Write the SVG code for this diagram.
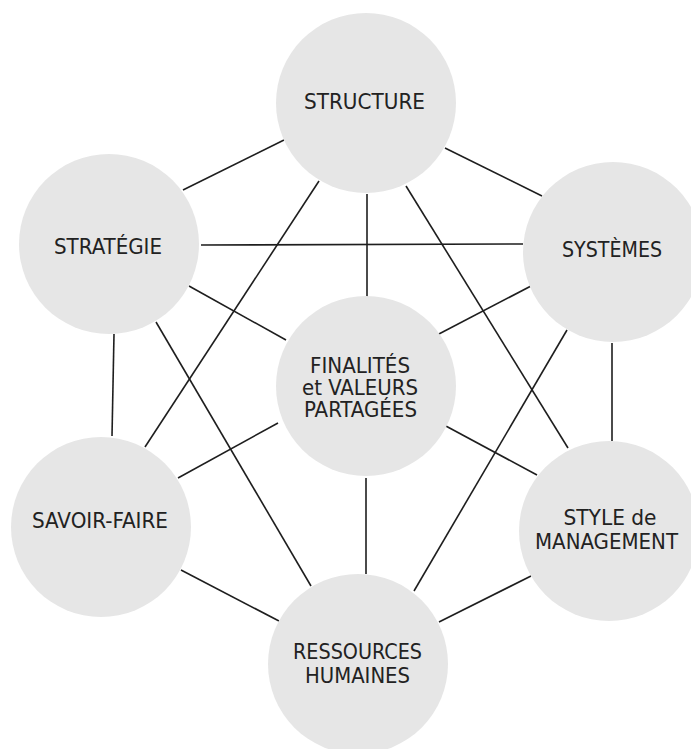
<svg xmlns="http://www.w3.org/2000/svg" width="691" height="749" viewBox="0 0 691 749">
<style>
.ln{stroke:#1e1e1e;stroke-width:1.6;fill:none}
.nd{fill:#e6e6e6}
.tx{font-family:"DejaVu Sans Condensed","DejaVu Sans",sans-serif;font-size:20.5px;fill:#222;text-anchor:middle}
</style>
<rect width="691" height="749" fill="#fff"/>
<g id="connectors">
<line class="ln" x1="183" y1="190" x2="284" y2="140"/>
<line class="ln" x1="445" y1="148" x2="542" y2="196"/>
<line class="ln" x1="201" y1="245" x2="523" y2="244"/>
<line class="ln" x1="367" y1="194" x2="367" y2="297"/>
<line class="ln" x1="319" y1="181" x2="145" y2="447"/>
<line class="ln" x1="406" y1="186" x2="568" y2="448"/>
<line class="ln" x1="189" y1="286" x2="286" y2="340"/>
<line class="ln" x1="156" y1="322" x2="311" y2="586"/>
<line class="ln" x1="114" y1="334" x2="112" y2="436"/>
<line class="ln" x1="531" y1="286" x2="437" y2="335"/>
<line class="ln" x1="567" y1="330" x2="414" y2="591"/>
<line class="ln" x1="612" y1="343" x2="612" y2="441"/>
<line class="ln" x1="278" y1="423" x2="178" y2="478"/>
<line class="ln" x1="444" y1="425" x2="537" y2="475"/>
<line class="ln" x1="366" y1="478" x2="366" y2="574"/>
<line class="ln" x1="181" y1="570" x2="279" y2="621"/>
<line class="ln" x1="531" y1="576" x2="439" y2="622"/>
</g>
<g id="structure"><circle class="nd" cx="366" cy="103" r="90"/><text class="tx" x="364.5" y="109" textLength="121" lengthAdjust="spacingAndGlyphs">STRUCTURE</text></g>
<g id="strategie"><circle class="nd" cx="109" cy="244" r="90"/><text class="tx" x="108" y="254" textLength="108" lengthAdjust="spacingAndGlyphs">STRATÉGIE</text></g>
<g id="systemes"><circle class="nd" cx="613" cy="252" r="90"/><text class="tx" x="612" y="257" textLength="100" lengthAdjust="spacingAndGlyphs">SYSTÈMES</text></g>
<g id="finalites"><circle class="nd" cx="366" cy="386" r="90"/>
<text class="tx" x="360" y="373" textLength="100" lengthAdjust="spacingAndGlyphs">FINALITÉS</text>
<text class="tx" x="360" y="395" textLength="116" lengthAdjust="spacingAndGlyphs">et VALEURS</text>
<text class="tx" x="360.5" y="417" textLength="113" lengthAdjust="spacingAndGlyphs">PARTAGÉES</text></g>
<g id="savoir-faire"><circle class="nd" cx="101" cy="527" r="90"/><text class="tx" x="100" y="528" textLength="136" lengthAdjust="spacingAndGlyphs">SAVOIR-FAIRE</text></g>
<g id="style"><circle class="nd" cx="609" cy="531" r="90"/>
<text class="tx" x="610" y="525" textLength="93" lengthAdjust="spacingAndGlyphs">STYLE de</text>
<text class="tx" x="606.5" y="549" textLength="143" lengthAdjust="spacingAndGlyphs">MANAGEMENT</text></g>
<g id="ressources"><circle class="nd" cx="358" cy="664" r="90"/>
<text class="tx" x="357.5" y="659" textLength="129" lengthAdjust="spacingAndGlyphs">RESSOURCES</text>
<text class="tx" x="357.5" y="683" textLength="105" lengthAdjust="spacingAndGlyphs">HUMAINES</text></g>
</svg>
